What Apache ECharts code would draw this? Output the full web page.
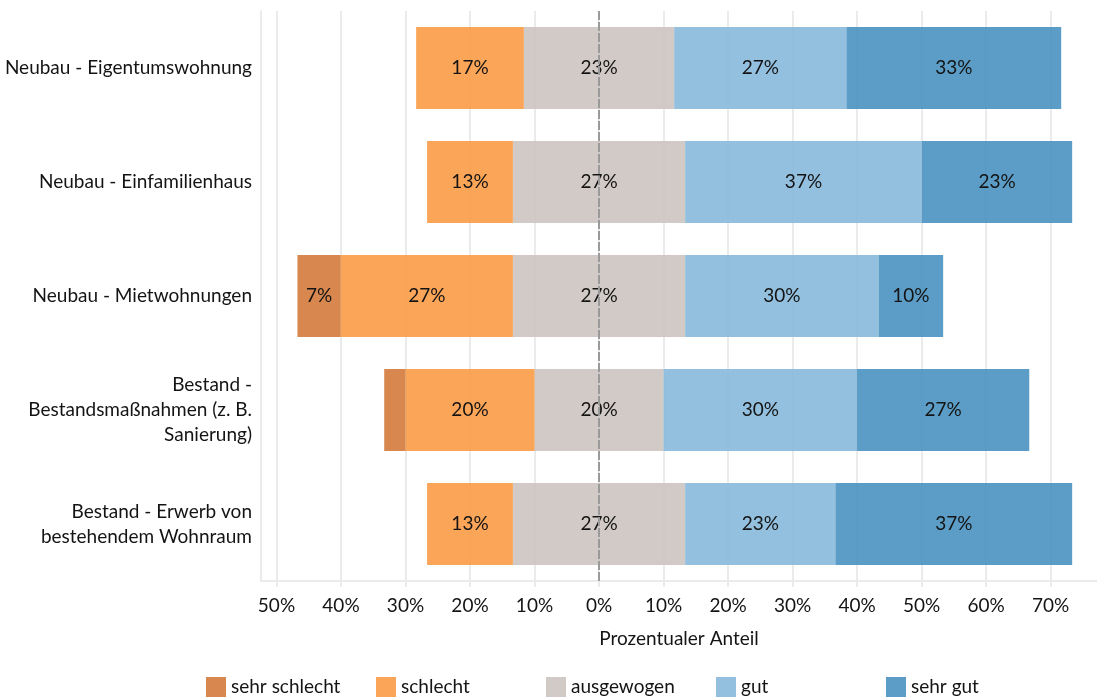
<!DOCTYPE html>
<html>
<head>
<meta charset="utf-8">
<script src="https://cdn.jsdelivr.net/npm/echarts/dist/echarts.min.js"></script>
<style>
  html, body { margin: 0; padding: 0; background: #ffffff; }
  #chart { width: 1097px; height: 698px; }
</style>
</head>
<body>
<div id="chart"></div>
<script>
// Bewertung je Bauvorhaben, Anteile in Prozent
const categories = [
  'Neubau - Eigentumswohnung',
  'Neubau - Einfamilienhaus',
  'Neubau - Mietwohnungen',
  'Bestand -\nBestandsmaßnahmen (z. B.\nSanierung)',
  'Bestand - Erwerb von\nbestehendem Wohnraum'
];
const levels       = ['sehr schlecht', 'schlecht', 'ausgewogen', 'gut', 'sehr gut'];
const sehrSchlecht = [0, 0, 6.7, 3.3, 0];
const schlecht     = [16.7, 13.3, 26.7, 20.0, 13.3];
const ausgewogen   = [23.3, 26.7, 26.7, 20.0, 26.7];
const gut          = [26.7, 36.7, 30.0, 30.0, 23.3];
const sehrGut      = [33.3, 23.3, 10.0, 26.7, 36.7];
const tickValues   = [-50, -40, -30, -20, -10, 0, 10, 20, 30, 40, 50, 60, 70];

const FONT = 'Lato, "Open Sans", sans-serif';
const FS = 19;
const TEXT = '#141414';
const GRID_C = '#ebebeb';

const colors = {
  'sehr schlecht': 'rgba(212, 122, 60, 0.9)',
  'schlecht': 'rgba(251, 155, 70, 0.9)',
  'ausgewogen': 'rgba(205, 196, 192, 0.9)',
  'gut': 'rgba(135, 185, 219, 0.9)',
  'sehr gut': 'rgba(73, 146, 192, 0.9)'
};

const pctLabel = (v) => Math.round(Math.abs(v)) + '%';
const segLabel = {
  show: true,
  position: 'inside',
  color: TEXT,
  fontFamily: FONT,
  fontSize: FS,
  formatter: (p) => Math.abs(p.value) >= 5 ? pctLabel(p.value) : ''
};

function bar(name, values, label) {
  return {
    name: name,
    type: 'bar',
    stack: 'likert',
    barWidth: 82,
    data: values,
    itemStyle: { color: colors[name] },
    label: label,
    emphasis: { disabled: true }
  };
}

const series = [
  // Neutral share split evenly around zero; its label sits on the centre line
  bar('ausgewogen', ausgewogen.map(v => -v / 2), { show: false }),
  bar('ausgewogen', ausgewogen.map(v => v / 2), {
    show: true,
    position: 'insideLeft',
    distance: 0,
    align: 'center',
    color: TEXT,
    fontFamily: FONT,
    fontSize: FS,
    formatter: (p) => pctLabel(ausgewogen[p.dataIndex])
  }),
  bar('schlecht', schlecht.map(v => -v), segLabel),
  bar('sehr schlecht', sehrSchlecht.map(v => -v), segLabel),
  bar('gut', gut, segLabel),
  bar('sehr gut', sehrGut, segLabel)
];

// Dashed zero line
series[1].markLine = {
  silent: true,
  symbol: 'none',
  label: { show: false },
  lineStyle: { color: '#9a9a9a', type: [9, 2], width: 2 },
  data: [{ xAxis: 0 }]
};

// One legend block per level, spaced evenly along the bottom
const legends = levels.map((name, i) => ({
  data: [name],
  left: 206 + i * 170,
  top: 677,
  padding: 0,
  icon: 'rect',
  itemWidth: 20,
  itemHeight: 20,
  selectedMode: false,
  textStyle: { fontFamily: FONT, fontSize: FS, color: TEXT }
}));

const chart = echarts.init(document.getElementById('chart'));
chart.setOption({
  animation: false,
  backgroundColor: '#ffffff',
  textStyle: { fontFamily: FONT },
  grid: { left: 261, right: 0, top: 11, bottom: 117, containLabel: false },
  legend: legends,
  xAxis: {
    type: 'value',
    min: -52.4,
    max: 77.2,
    name: 'Prozentualer Anteil',
    nameLocation: 'middle',
    nameGap: 48,
    nameTextStyle: { fontFamily: FONT, fontSize: FS, color: TEXT },
    axisLine: { show: true, onZero: false, lineStyle: { color: GRID_C, width: 2 } },
    axisTick: { show: true, length: 6, customValues: tickValues, lineStyle: { color: GRID_C, width: 2 } },
    axisLabel: {
      customValues: tickValues,
      margin: 15,
      fontFamily: FONT,
      fontSize: FS,
      color: TEXT,
      formatter: (v) => Math.abs(v) + '%'
    },
    splitLine: { show: true, lineStyle: { color: GRID_C, width: 2 } }
  },
  yAxis: {
    type: 'category',
    inverse: true,
    data: categories,
    axisLine: { show: true, onZero: false, lineStyle: { color: GRID_C, width: 2 } },
    axisTick: { show: false },
    axisLabel: {
      margin: 9,
      fontFamily: FONT,
      fontSize: FS,
      color: TEXT,
      lineHeight: 25,
      align: 'right'
    }
  },
  series: series
});
</script>
</body>
</html>
